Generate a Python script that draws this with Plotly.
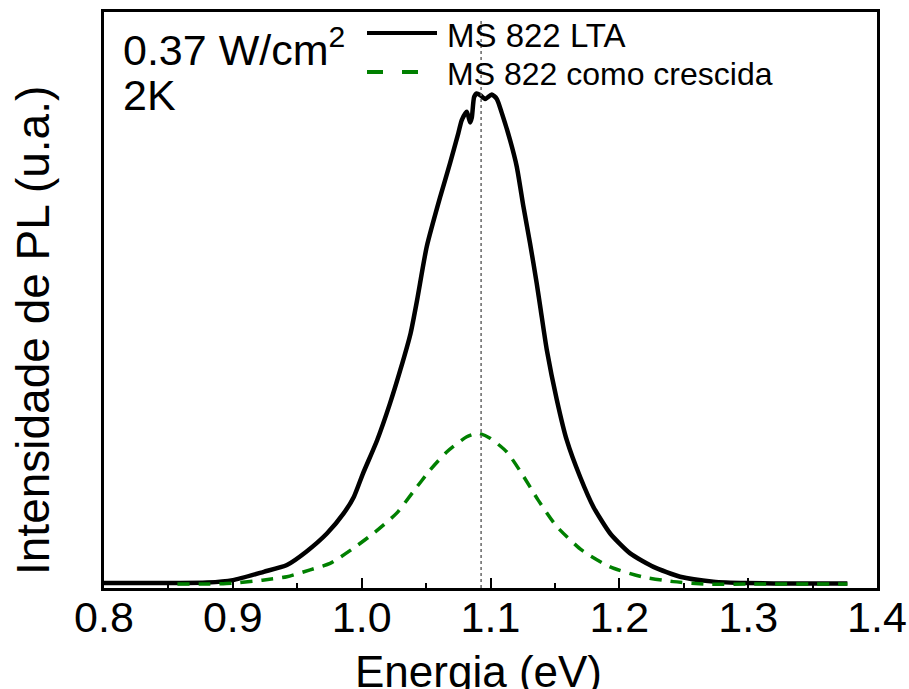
import plotly.graph_objects as go

# Black: MS 822 LTA
lta_energy = [0.800, 0.850, 0.880, 0.900, 0.924, 0.942, 0.957, 0.973, 0.986, 0.994,
              1.001, 1.012, 1.022, 1.030, 1.038, 1.043, 1.0505, 1.061, 1.0686, 1.075,
              1.0777, 1.0816, 1.0842, 1.0855, 1.0873, 1.0893, 1.0919, 1.0958, 1.101, 1.1049,
              1.1088, 1.1152, 1.1204, 1.1256, 1.1307, 1.1359, 1.139, 1.1437, 1.1515, 1.1592,
              1.1696, 1.1799, 1.1929, 1.2084, 1.2265, 1.2472, 1.273, 1.299, 1.340, 1.377]
lta_intensity = [0.002, 0.002, 0.003, 0.008, 0.025, 0.039, 0.066, 0.103, 0.144, 0.178,
                 0.225, 0.293, 0.368, 0.436, 0.511, 0.578, 0.687, 0.789, 0.857, 0.918,
                 0.945, 0.962, 0.940, 0.950, 0.992, 0.999, 0.996, 0.988, 0.997, 0.988,
                 0.959, 0.904, 0.850, 0.768, 0.694, 0.612, 0.558, 0.477, 0.375, 0.293,
                 0.218, 0.157, 0.103, 0.0625, 0.035, 0.015, 0.005, 0.002, 0.001, 0.001]

# Green dashed: MS 822 como crescida
cc_energy = [0.857, 0.880, 0.900, 0.923, 0.942, 0.960, 0.9755, 0.9936, 1.009, 1.027,
             1.040, 1.053, 1.066, 1.0816, 1.0906, 1.0997, 1.1127, 1.1243, 1.137, 1.1515,
             1.1709, 1.1929, 1.2174, 1.242, 1.268, 1.300, 1.377]
cc_intensity = [0.0, 0.0, 0.002, 0.008, 0.015, 0.029, 0.042, 0.073, 0.103, 0.144,
                0.188, 0.232, 0.269, 0.300, 0.307, 0.297, 0.269, 0.225, 0.171, 0.117,
                0.069, 0.035, 0.015, 0.005, 0.0, 0.0, 0.0]

peak_energy = 1.0927
x_ticks = [0.8, 0.9, 1.0, 1.1, 1.2, 1.3, 1.4]
x_tick_text = ["0.8", "0.9", "1.0", "1.1", "1.2", "1.3", "1.4"]

FONT = "Liberation Sans, Arial, sans-serif"

# target plot area in page pixels
W, H = 909, 689
PL, PR, PT, PB = 104, 877, 12, 588
PW, PH = PR - PL, PB - PT

fig = go.Figure()
fig.add_trace(go.Scatter(x=lta_energy, y=lta_intensity, mode="lines",
                         line=dict(color="black", width=4.5, shape="spline", smoothing=0.6),
                         name="MS 822 LTA", showlegend=False))
fig.add_trace(go.Scatter(x=cc_energy, y=cc_intensity, mode="lines",
                         line=dict(color="#008000", width=3.5, dash="12px,9px",
                                   shape="spline", smoothing=0.6),
                         name="MS 822 como crescida", showlegend=False))

# vertical dotted reference line at peak
fig.add_shape(type="line", xref="x", yref="paper", x0=peak_energy, x1=peak_energy,
              y0=0, y1=0.985, line=dict(color="#666666", width=1.5, dash="3px,3px"))

def px_x(p):
    return (p - PL) / PW

def px_y(p):
    return (PB - p) / PH

# manual legend
fig.add_shape(type="line", xref="paper", yref="paper", x0=px_x(367), x1=px_x(437),
              y0=px_y(33), y1=px_y(33), line=dict(color="black", width=4))
fig.add_shape(type="line", xref="paper", yref="paper", x0=px_x(367), x1=px_x(418),
              y0=px_y(72), y1=px_y(72), line=dict(color="#008000", width=4, dash="16px,19px"))
fig.add_annotation(xref="paper", yref="paper", x=px_x(445), y=px_y(36), text="MS 822 LTA",
                   showarrow=False, xanchor="left", yanchor="middle",
                   font=dict(family=FONT, size=33, color="black"))
fig.add_annotation(xref="paper", yref="paper", x=px_x(445), y=px_y(74), text="MS 822 como crescida",
                   showarrow=False, xanchor="left", yanchor="middle",
                   font=dict(family=FONT, size=32, color="black"))

# condition text
fig.add_annotation(xref="paper", yref="paper", x=px_x(121), y=px_y(47),
                   text="0.37 W/cm<sup>2</sup>", showarrow=False, xanchor="left", yanchor="middle",
                   font=dict(family=FONT, size=43, color="black"))
fig.add_annotation(xref="paper", yref="paper", x=px_x(121), y=px_y(95),
                   text="2K", showarrow=False, xanchor="left", yanchor="middle",
                   font=dict(family=FONT, size=43, color="black"))

# axis titles as annotations
fig.add_annotation(xref="paper", yref="paper", x=px_x(478), y=px_y(671),
                   text="Energia (eV)", showarrow=False, xanchor="center", yanchor="middle",
                   font=dict(family=FONT, size=44, color="black"))
fig.add_annotation(xref="paper", yref="paper", x=px_x(33), y=px_y(331), textangle=-90,
                   text="Intensidade de PL (u.a.)", showarrow=False, xanchor="center", yanchor="middle",
                   font=dict(family=FONT, size=46, color="black"))

fig.update_layout(
    width=W, height=H, autosize=False,
    margin=dict(l=PL, r=W - PR, t=PT, b=H - PB, autoexpand=False),
    paper_bgcolor="white", plot_bgcolor="white",
    font=dict(family=FONT, color="black"),
)
fig.update_xaxes(
    range=[0.8, 1.4], tickmode="array", tickvals=x_ticks, ticktext=x_tick_text,
    ticks="inside", ticklen=10, tickwidth=2, tickcolor="black",
    minor=dict(dtick=0.05, ticks="inside", ticklen=5, tickwidth=2, tickcolor="black"),
    showline=True, linecolor="black", linewidth=3, mirror=True,
    showgrid=False, zeroline=False, automargin=False,
    tickfont=dict(family=FONT, size=43, color="black"), ticklabelstandoff=-11,
)
fig.update_yaxes(
    range=[-0.008, 1.165], showticklabels=False, ticks="",
    showline=True, linecolor="black", linewidth=3, mirror=True,
    showgrid=False, zeroline=False, automargin=False,
)

fig.write_html("out.html", config={"displayModeBar": False},
               post_script="document.body.style.margin='0';document.body.style.overflow='hidden';")
